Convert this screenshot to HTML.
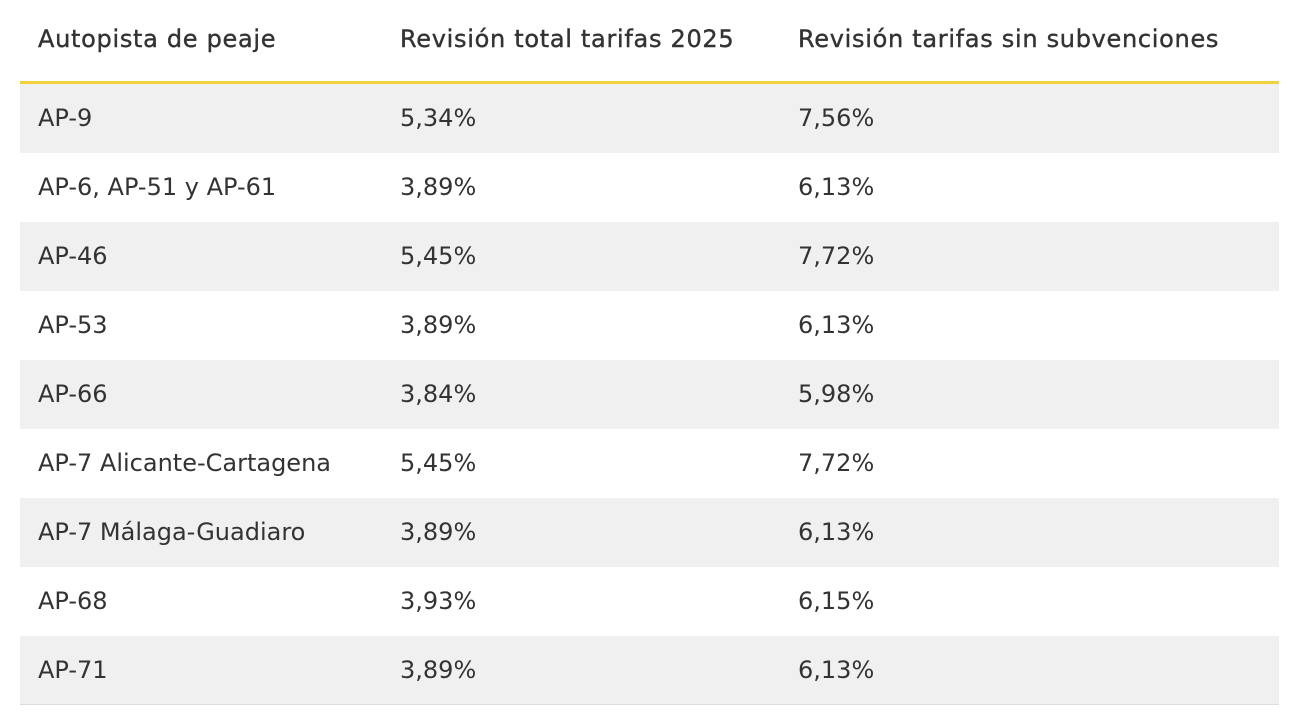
<!DOCTYPE html>
<html><head><meta charset="utf-8"><style>
body{margin:0;width:1300px;height:724px;background:#fff;font-family:"DejaVu Sans","Liberation Sans",sans-serif;color:#333;overflow:hidden;position:relative}
.row{position:absolute;left:20px;width:1259px;height:69px}
.c{position:absolute;font-size:24px;line-height:69px;top:0;white-space:nowrap}
.c1{left:18px}.c2{left:380px}.c3{left:778px}
.h{font-size:24px;letter-spacing:0.7px;color:#333;-webkit-text-stroke:0.4px #333}
</style></head><body>
<div>
<div class="row" style="top:4px;height:70px">
<div class="c c1 h" style="line-height:70px">Autopista de peaje</div>
<div class="c c2 h" style="line-height:70px">Revisión total tarifas 2025</div>
<div class="c c3 h" style="line-height:70px">Revisión tarifas sin subvenciones</div>
</div>
<div style="position:absolute;left:20px;top:81px;width:1259px;height:3px;background:#f2d23c"></div>
<div id="body"></div>
<div style="position:absolute;left:20px;top:704px;width:1259px;height:1px;background:#ddd"></div>
</div>
<script>
const roads=["AP-9","AP-6, AP-51 y AP-61","AP-46","AP-53","AP-66","AP-7 Alicante-Cartagena","AP-7 Málaga-Guadiaro","AP-68","AP-71"];
const totalRev=["5,34%","3,89%","5,45%","3,89%","3,84%","5,45%","3,89%","3,93%","3,89%"];
const noSubRev=["7,56%","6,13%","7,72%","6,13%","5,98%","7,72%","6,13%","6,15%","6,13%"];
const body=document.getElementById('body');
roads.forEach((r,i)=>{
  const row=document.createElement('div');
  row.className='row';
  
  
  row.style.top=(84+i*69)+'px';
  row.style.background=i%2===0?'#f0f0f0':'#fff';
  [[r,'c1','road-name'],[totalRev[i],'c2','total-revision'],[noSubRev[i],'c3','revision-no-subsidy']].forEach(([t,c,n])=>{
    const d=document.createElement('div');
    d.className='c '+c;
    
    
    d.textContent=t;
    row.appendChild(d);
  });
  body.appendChild(row);
});
</script>
</body></html>
